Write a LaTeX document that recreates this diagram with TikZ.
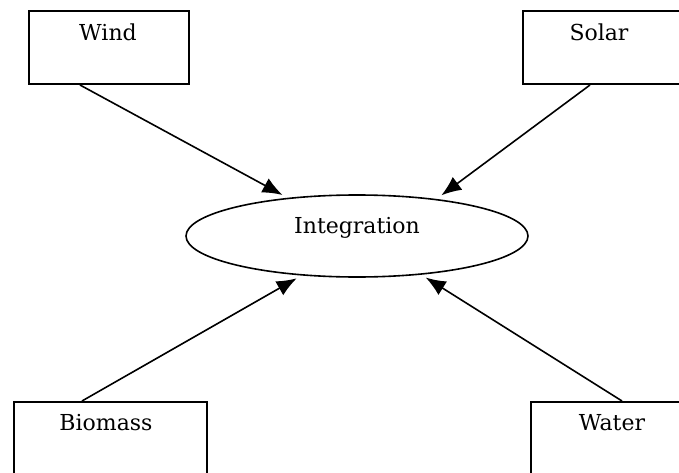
\documentclass[tikz,border=0pt]{standalone}
\usepackage{fontspec}
\setmainfont{DejaVu Serif}
\usetikzlibrary{arrows.meta,shapes.geometric,calc}
\begin{document}
\begin{tikzpicture}[x=1pt,y=-1pt,
  srcbox/.style={draw=black, line width=2pt, rectangle, inner sep=0pt, anchor=north west},
  hub/.style={draw=black, line width=1.6pt, ellipse, inner sep=0pt},
  lbl/.style={font=\fontsize{22}{26}\selectfont, inner sep=0pt, text=black},
  feed/.style={draw=black, line width=1.6pt, -{Latex[length=20pt,width=16pt]}}]
\useasboundingbox (0,0) rectangle (679,473);
\clip (0,0) rectangle (679,473);
\fill[white] (0,0) rectangle (679,473);

% source boxes (the right-hand ones run off the page edge)
\node[srcbox, minimum width=160pt, minimum height=73pt] (wind) at (28,10) {};
\node[srcbox, minimum width=170pt, minimum height=73pt] (solar) at (522,10) {};
\node[srcbox, minimum width=193pt, minimum height=90pt] (biomass) at (13,401) {};
\node[srcbox, minimum width=170pt, minimum height=90pt] (water) at (530,401) {};

\node[lbl] (windtxt) at (108,32) {Wind};
\node[lbl] (solartxt) at (599,32) {Solar};
\node[lbl] (biomasstxt) at (106,423) {Biomass};
\node[lbl] (watertxt) at (612,423) {Water};

% central integration ellipse
\node[hub, minimum width=342pt, minimum height=82pt] (int) at (357,236) {};
\node[lbl] (inttxt) at (357,228) {Integration};

% connectors
\draw[feed] ($(wind.south west)+(52,0)$) -- ($(int.152)+(-3,-3)$);
\draw[feed] ($(solar.south west)+(68,0)$) -- ($(int.24)+(2,-4)$);
\draw[feed] ($(biomass.north west)+(69,0)$) -- ($(int.214)+(-2,3)$);
\draw[feed] ($(water.north west)+(92,0)$) -- ($(int.-30)+(2,3)$);
\end{tikzpicture}
\end{document}
